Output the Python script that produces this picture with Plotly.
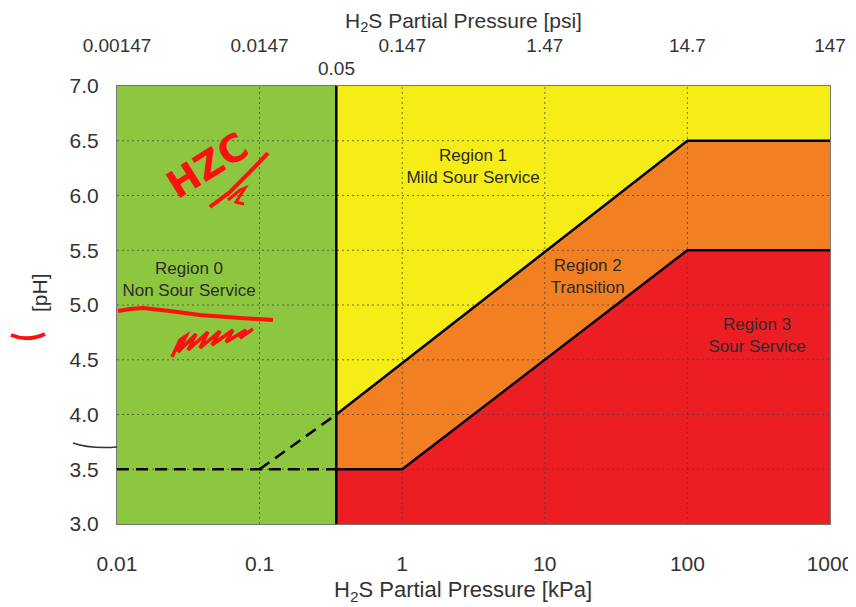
import plotly.graph_objects as go
import numpy as np

# ---- data ----
x_min, x_max = 0.01, 1000.0
y_min, y_max = 3.0, 7.0
x_limit = 0.345            # 0.05 psi expressed in kPa
upper_x = [0.345, 100, 1000]
upper_y = [4.0, 6.5, 6.5]
lower_x = [0.345, 1, 100, 1000]
lower_y = [3.5, 3.5, 5.5, 5.5]
dash_h_x = [0.01, 0.345]
dash_h_y = [3.5, 3.5]
dash_d_x = [0.1, 0.345]
dash_d_y = [3.5, 4.0]

kpa_ticks = [0.01, 0.1, 1, 10, 100, 1000]
kpa_labels = ["0.01", "0.1", "1", "10", "100", "1000"]
psi_labels = ["0.00147", "0.0147", "0.147", "1.47", "14.7", "147"]
ph_ticks = [3.0, 3.5, 4.0, 4.5, 5.0, 5.5, 6.0, 6.5, 7.0]
ph_labels = ["3.0", "3.5", "4.0", "4.5", "5.0", "5.5", "6.0", "6.5", "7.0"]

region_names = ["Region 0<br>Non Sour Service", "Region 1<br>Mild Sour Service",
                "Region 2<br>Transition", "Region 3<br>Sour Service"]
region_x = [0.032, 3.14, 20, 308]
region_y = [5.22, 6.25, 5.25, 4.71]

GREEN, YELLOW, ORANGE, RED = "#8dc63f", "#f6ec16", "#f27f22", "#ec1e24"
FONT = "Liberation Sans, Arial, sans-serif"

fig = go.Figure()

def poly(xs, ys, color):
    fig.add_trace(go.Scatter(x=xs, y=ys, fill="toself", fillcolor=color, mode="lines",
                             line=dict(width=0), hoverinfo="skip", showlegend=False))

poly([x_min, x_limit, x_limit, x_min], [y_min, y_min, y_max, y_max], GREEN)
poly([x_limit] + upper_x + [x_max, x_limit],
     [y_max] + upper_y + [y_max, y_max], YELLOW)
poly(upper_x + lower_x[::-1], upper_y + lower_y[::-1], ORANGE)
poly(lower_x + [x_max, x_limit], lower_y + [y_min, y_min], RED)

# grid lines (drawn above the fills)
grid_style = dict(color="rgba(70,70,70,0.75)", width=1, dash="2px,3px")
for xv in kpa_ticks[1:-1]:
    fig.add_trace(go.Scatter(x=[xv, xv], y=[y_min, y_max], mode="lines", line=grid_style,
                             hoverinfo="skip", showlegend=False))
for yv in ph_ticks[1:-1]:
    fig.add_trace(go.Scatter(x=[x_min, x_max], y=[yv, yv], mode="lines", line=grid_style,
                             hoverinfo="skip", showlegend=False))

# boundaries
solid = dict(color="black", width=2.5)
fig.add_trace(go.Scatter(x=[x_limit, x_limit], y=[y_min, y_max], mode="lines", line=solid,
                         hoverinfo="skip", showlegend=False))
fig.add_trace(go.Scatter(x=upper_x, y=upper_y, mode="lines", line=solid,
                         hoverinfo="skip", showlegend=False))
fig.add_trace(go.Scatter(x=lower_x, y=lower_y, mode="lines", line=solid,
                         hoverinfo="skip", showlegend=False))
dashed = dict(color="black", width=2.5, dash="12px,7px")
fig.add_trace(go.Scatter(x=dash_h_x, y=dash_h_y, mode="lines", line=dashed,
                         hoverinfo="skip", showlegend=False))
fig.add_trace(go.Scatter(x=dash_d_x, y=dash_d_y, mode="lines", line=dashed,
                         hoverinfo="skip", showlegend=False))

# region labels
fig.add_trace(go.Scatter(x=region_x, y=region_y, mode="text", text=region_names,
                         textfont=dict(family=FONT, size=17, color="#2b2b2b"),
                         hoverinfo="skip", showlegend=False))

# top axis dummy trace
fig.add_trace(go.Scatter(x=[x_min, x_max], y=[y_min, y_min], xaxis="x2", mode="markers",
                         marker=dict(opacity=0), hoverinfo="skip", showlegend=False))

OFF = 8  # page body margin
W, H = 856 - OFF, 607 - OFF
L, T = 117 - OFF, 86 - OFF
pw, ph = 830 - 117, 524 - 86
R, B = W - L - pw, H - T - ph

def px(xp, yp):
    """page pixel -> paper coordinates"""
    return (xp - OFF - L) / pw, (T + ph - (yp - OFF)) / ph

fig.update_layout(
    width=W, height=H,
    margin=dict(l=L, r=R, t=T, b=B, autoexpand=False),
    paper_bgcolor="white", plot_bgcolor="white",
    font=dict(family=FONT, color="#333333"),
    xaxis=dict(type="log", range=[-2, 3], tickvals=kpa_ticks, ticktext=kpa_labels,
               showgrid=False, zeroline=False, ticks="", ticklabelstandoff=21, automargin=False,
               tickfont=dict(size=21, color="#333333"),
               showline=True, linecolor="#777777", linewidth=1, mirror=True),
    xaxis2=dict(type="log", range=[-2, 3], overlaying="x", side="top", automargin=False,
                tickvals=kpa_ticks, ticktext=psi_labels, showgrid=False, zeroline=False,
                ticks="", ticklabelstandoff=29, tickfont=dict(size=19, color="#333333"),
                showline=False),
    yaxis=dict(range=[y_min, y_max], tickvals=ph_ticks, ticktext=ph_labels, automargin=False,
               showgrid=False, zeroline=False, ticks="", ticklabelstandoff=13,
               tickfont=dict(size=21, color="#333333"),
               showline=True, linecolor="#777777", linewidth=1, mirror=True),
)

annos = []
def anno(text, xp, yp, size, **kw):
    ax, ay = px(xp, yp)
    d = dict(text=text, x=ax, y=ay, xref="paper", yref="paper", showarrow=False,
             xanchor="center", yanchor="middle", font=dict(size=size, color="#333333"))
    d.update(kw)
    annos.append(d)

anno("H<sub>2</sub>S Partial Pressure [kPa]", 463, 591, 22)
anno("H<sub>2</sub>S Partial Pressure [psi]", 463, 22, 21)
anno("[pH]", 39, 293, 21, textangle=-90)
# the 0.05 psi label
_, ay = px(0, 68)
annos.append(dict(text="0.05", x=np.log10(x_limit), y=ay, xref="x", yref="paper",
                  xanchor="center", yanchor="middle",
                  showarrow=False, font=dict(size=19, color="#333333")))
# handwritten note
anno("HZC", 207, 166, 38, textangle=-32,
     font=dict(family="DejaVu Sans", size=38, color="#ff1010", weight="bold"))
fig.update_layout(annotations=annos)

def path(points, color="#ff1010", width=4):
    d = "M " + " L ".join(f"{px(a, b)[0]:.4f},{px(a, b)[1]:.4f}" for a, b in points)
    return dict(type="path", path=d, xref="paper", yref="paper",
                line=dict(color=color, width=width), layer="above")

def qcurve(p0, pc, p1, color="#ff1010", width=4):
    a, b, c = px(*p0), px(*pc), px(*p1)
    d = f"M {a[0]:.4f},{a[1]:.4f} Q {b[0]:.4f},{b[1]:.4f} {c[0]:.4f},{c[1]:.4f}"
    return dict(type="path", path=d, xref="paper", yref="paper",
                line=dict(color=color, width=width), layer="above")

shapes = [
    path([(118, 311), (130, 309), (143, 308), (170, 311), (200, 315), (240, 318), (273, 320)]),
    path([(172, 357), (180, 340), (186, 336), (178, 352), (196, 334), (188, 350), (208, 332),
          (200, 348), (220, 331), (212, 345), (233, 330), (226, 342), (246, 330), (240, 338),
          (253, 329)], width=3.5),
    path([(210, 207), (230, 192), (250, 172), (268, 153)]),
    path([(228, 200), (240, 190), (245, 188), (236, 202), (244, 204)], width=3),
    qcurve((11, 335), (28, 342), (45, 334)),
    qcurve((73, 443), (90, 449), (117, 447), color="#333333", width=1.5),
]
fig.update_layout(shapes=shapes)

fig.write_html("out.html")
